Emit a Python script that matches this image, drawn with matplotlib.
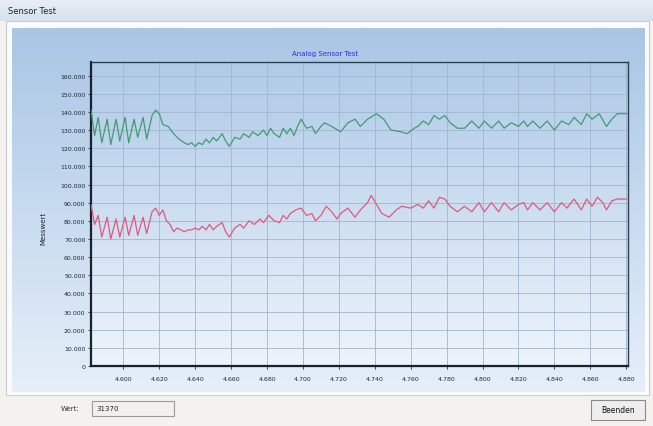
#!/usr/bin/env python3
# encoding: utf-8
import numpy as np
from matplotlib import pyplot as plt
from matplotlib.colors import to_rgb
from matplotlib.patches import Rectangle
from matplotlib.ticker import FuncFormatter, MultipleLocator

# sample index -> measured value (in thousands)
green_x = [4582, 4584, 4586, 4588, 4591, 4593, 4596, 4598, 4601, 4603, 4606, 4608, 4611, 4613,
           4616, 4618, 4620, 4622, 4625, 4628, 4631, 4634, 4636, 4638, 4640, 4642, 4644, 4646,
           4648, 4650, 4652, 4655, 4657, 4659, 4662, 4665, 4667, 4670, 4672, 4675, 4678, 4680,
           4682, 4684, 4687, 4689, 4691, 4693, 4695, 4697, 4699, 4702, 4705, 4707, 4710, 4712,
           4716, 4721, 4725, 4729, 4732, 4736, 4741, 4745, 4749, 4755, 4758, 4762, 4764, 4767,
           4770, 4773, 4776, 4779, 4782, 4786, 4790, 4794, 4798, 4801, 4805, 4809, 4812, 4816,
           4820, 4823, 4825, 4828, 4832, 4836, 4840, 4844, 4848, 4851, 4855, 4858, 4861, 4865,
           4869, 4872, 4875, 4880]
green_y = [141, 127, 137, 123, 136, 122, 136, 124, 137, 123, 136, 126, 137, 125,
           138, 141, 139, 133, 132, 128, 125, 123, 122, 123, 121, 123, 122, 125,
           123, 126, 124, 128, 124, 121, 126, 125, 128, 126, 129, 127, 130, 127,
           131, 128, 126, 131, 128, 131, 127, 132, 136, 131, 132, 128, 132, 134,
           132, 129, 134, 136, 132, 136, 139, 136, 130, 129, 128, 131, 132, 135,
           133, 138, 136, 138, 134, 131, 131, 135, 131, 135, 131, 135, 131, 134,
           132, 135, 132, 135, 131, 135, 130, 135, 133, 137, 133, 139, 136, 139,
           132, 136, 139, 139]

red_x = [4582, 4584, 4586, 4588, 4591, 4593, 4596, 4598, 4601, 4603, 4606, 4608, 4611, 4613,
         4616, 4618, 4620, 4622, 4624, 4626, 4628, 4630, 4632, 4634, 4636, 4638, 4640, 4642,
         4644, 4646, 4648, 4650, 4652, 4655, 4657, 4659, 4662, 4665, 4667, 4670, 4673, 4676,
         4678, 4681, 4684, 4687, 4689, 4691, 4693, 4696, 4699, 4702, 4705, 4707, 4710, 4713,
         4716, 4719, 4721, 4725, 4729, 4732, 4736, 4738, 4741, 4744, 4748, 4752, 4755, 4760,
         4764, 4767, 4770, 4773, 4776, 4779, 4782, 4786, 4790, 4794, 4798, 4801, 4805, 4809,
         4812, 4816, 4820, 4823, 4825, 4828, 4832, 4836, 4840, 4844, 4847, 4851, 4855, 4858,
         4861, 4864, 4867, 4869, 4872, 4875, 4880]
red_y = [89, 78, 83, 71, 82, 70, 81, 71, 82, 72, 83, 72, 82, 73,
         85, 87, 83, 86, 80, 78, 74, 76, 75, 74, 75, 75, 76, 75,
         77, 75, 78, 75, 77, 79, 74, 71, 76, 78, 76, 80, 78, 81,
         79, 83, 80, 79, 83, 81, 84, 86, 87, 83, 84, 80, 83, 88,
         85, 81, 84, 87, 82, 86, 90, 94, 89, 84, 82, 86, 88, 87,
         89, 87, 91, 87, 93, 92, 88, 85, 88, 85, 90, 85, 90, 85,
         90, 86, 89, 90, 86, 90, 86, 90, 85, 90, 87, 92, 86, 92,
         88, 93, 90, 86, 91, 92, 92]

W, H = 653, 427


def gradient(ax, extent, top, bottom, **kw):
    c0 = np.array(to_rgb(top))
    c1 = np.array(to_rgb(bottom))
    t = np.linspace(0, 1, 256)[:, None]
    img = (c0 * (1 - t) + c1 * t)[:, None, :]
    ax.imshow(img, extent=extent, aspect='auto', interpolation='bilinear', **kw)


fig = plt.figure(figsize=(W / 100, H / 100), dpi=100, facecolor='#f2f0ed')

# window chrome drawn in pixel coordinates
bg = fig.add_axes([0, 0, 1, 1])
bg.set_xlim(0, W)
bg.set_ylim(H, 0)
bg.axis('off')
gradient(bg, (0, W, 22, 0), '#e9eff6', '#d5e1ee', zorder=0)
bg.add_patch(Rectangle((0, 22), W, H - 22, facecolor='#f4f2ef', edgecolor='none', zorder=1))
bg.add_patch(Rectangle((6, 22), W - 10, 374, facecolor='#fbfbfb', edgecolor='#c8cdd3',
                       lw=0.8, zorder=1))
gradient(bg, (12, 645, 393, 29), '#a9c6e5', '#e6eff9', zorder=2)
bg.text(8, 11, "Sensor Test", fontsize=6, color='#1c2530', va='center', zorder=3)
bg.text(325, 54, "Analog Sensor Test", fontsize=5, color='#2233dd', ha='center', va='center',
        zorder=3)
bg.text(43, 228, "Messwert", fontsize=5, color='#1c2530', rotation=90, ha='center',
        va='center', zorder=3)
bg.text(80, 409, "Wert:", fontsize=5, color='#333333', ha='right', va='center', zorder=3)
bg.add_patch(Rectangle((92, 402), 82, 15, facecolor='#f2f0ee', edgecolor='#9a9a9a', lw=0.8,
                       zorder=3))
bg.text(96, 409.5, "31370", fontsize=5, color='#222222', va='center', zorder=4)
bg.add_patch(Rectangle((591, 401), 54, 20, facecolor='#eeeeee', edgecolor='#8a8a8a', lw=0.8,
                       zorder=3))
bg.text(618, 411, "Beenden", fontsize=5.5, color='#111111', ha='center', va='center', zorder=4)

ax = fig.add_axes([91 / W, 1 - 367 / H, (628 - 91) / W, (367 - 63) / H])
ax.set_xlim(4582, 4881)
ax.set_ylim(0, 167.5)
gradient(ax, (0, 1, 0, 1), '#afcae8', '#eef4fb', transform=ax.transAxes, zorder=0)

ax.plot(green_x, green_y, color='#449a72', lw=0.9, zorder=3)
ax.plot(red_x, red_y, color='#e2587a', lw=0.9, zorder=3)

ax.xaxis.set_major_locator(MultipleLocator(20))
ax.yaxis.set_major_locator(MultipleLocator(10))
fmt = FuncFormatter(lambda v, p: "{:,.0f}".format(v * 1000).replace(",", "."))
ax.yaxis.set_major_formatter(fmt)
ax.xaxis.set_major_formatter(FuncFormatter(lambda v, p: "{:.3f}".format(v / 1000)))
ax.tick_params(labelsize=4.5, colors='#1c2a3a', length=2, width=0.6, pad=2)
ax.tick_params(axis='x', pad=5)
ax.grid(True, color='#a0b6ce', lw=0.6)
ax.set_axisbelow(True)
for side in ['left', 'bottom']:
    ax.spines[side].set_linewidth(1.6)
    ax.spines[side].set_color('#17222e')
for side in ['top', 'right']:
    ax.spines[side].set_linewidth(1.0)
    ax.spines[side].set_color('#2b3d50')

plt.savefig("out.png", dpi=100, facecolor=fig.get_facecolor())
plt.close()
